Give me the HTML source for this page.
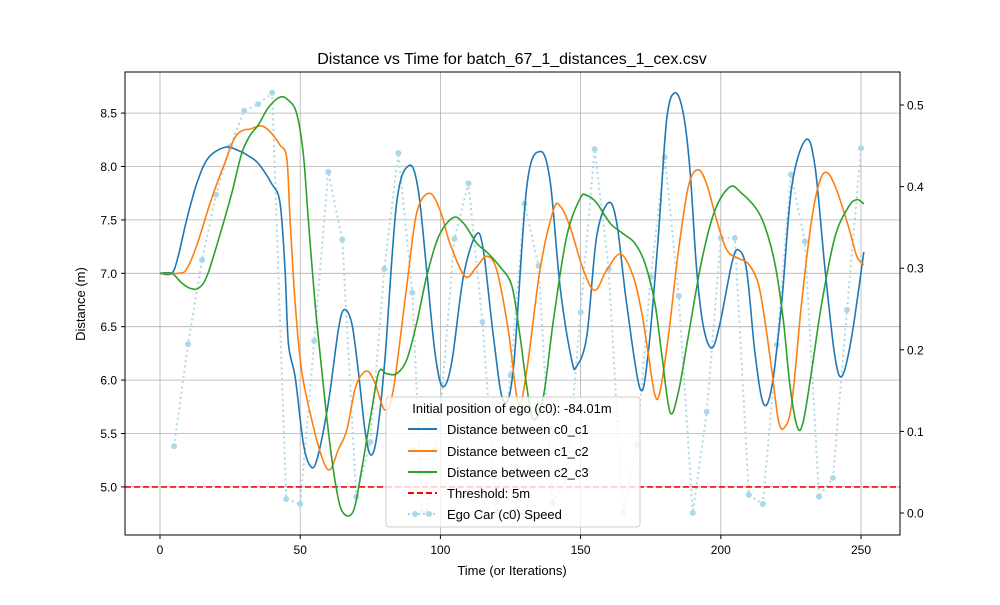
<!DOCTYPE html>
<html><head><meta charset="utf-8"><style>
body{margin:0;background:#fff;}
svg text{font-family:"Liberation Sans","DejaVu Sans",sans-serif;fill:#000;}
</style></head><body>
<svg id="chart" width="1000" height="600" viewBox="0 0 1000 600" xmlns="http://www.w3.org/2000/svg">
<rect width="1000" height="600" fill="#fff"/>
<text x="512" y="64" font-size="16" text-anchor="middle">Distance vs Time for batch_67_1_distances_1_cex.csv</text>
<g id="grid"></g>
<g id="series"></g>
<rect x="125" y="72" width="775" height="463" fill="none" stroke="#000" stroke-width="1"/>
<g id="axes"></g>
<text x="512" y="575" font-size="13" text-anchor="middle">Time (or Iterations)</text>
<text transform="translate(85,304) rotate(-90)" font-size="13" text-anchor="middle">Distance (m)</text>
<g id="legend">
<rect x="386" y="397" width="254" height="130" rx="3" fill="#fff" fill-opacity="0.8" stroke="#ccc"/>
<text x="512" y="413" font-size="13" text-anchor="middle">Initial position of ego (c0): -84.01m</text>
<line x1="408" y1="429" x2="437" y2="429" stroke="#1f77b4" stroke-width="2"/>
<text x="447" y="434" font-size="13">Distance between c0_c1</text>
<line x1="408" y1="451" x2="437" y2="451" stroke="#ff7f0e" stroke-width="2"/>
<text x="447" y="456" font-size="13">Distance between c1_c2</text>
<line x1="408" y1="472" x2="437" y2="472" stroke="#2ca02c" stroke-width="2"/>
<text x="447" y="477" font-size="13">Distance between c2_c3</text>
<line x1="408" y1="493" x2="437" y2="493" stroke="#ff0000" stroke-width="2" stroke-dasharray="6,3"/>
<text x="447" y="498" font-size="13">Threshold: 5m</text>
<line x1="408" y1="514" x2="437" y2="514" stroke="#add8e6" stroke-width="2" stroke-dasharray="2,3"/>
<circle cx="415" cy="514" r="3" fill="#add8e6"/><circle cx="429" cy="514" r="3" fill="#add8e6"/>
<text x="447" y="519" font-size="13">Ego Car (c0) Speed</text>
</g>
</svg>
<script>
const xTicks=[0,50,100,150,200,250];
const yTicks=[5.0,5.5,6.0,6.5,7.0,7.5,8.0,8.5];
const y2Ticks=[0.0,0.1,0.2,0.3,0.4,0.5];
const threshold=5;
const c01It=[0,4.2,6.5,9.5,13.1,17.2,23.2,27.9,31.5,35,39.8,42.8,44.6,45.8,48.2,51.1,53.5,55.9,60,63.6,65.7,68.4,70.7,73.1,75.1,77.3,80.2,84.4,88.9,92.1,95.1,98.1,100.8,104,108.2,112.7,115.3,118.9,122.4,126,130.8,135.5,139.1,142.7,146.8,148.6,152.2,155.7,159.9,162.9,166.4,171.2,174.1,177.7,180.7,183.7,186.6,189,191.4,193.8,196.8,199.7,203.9,206.2,209.2,212.2,215.2,218.2,221.7,225.3,230.3,233.6,237.2,240.7,243.3,246.7,251];
const c01Val=[7.0,7.0,7.16,7.5,7.84,8.08,8.18,8.15,8.10,8.03,7.84,7.66,7.03,6.34,6.03,5.41,5.2,5.25,5.78,6.47,6.66,6.53,6.09,5.53,5.30,5.47,6.19,7.66,8.01,7.78,7.03,6.25,5.94,6.16,6.97,7.36,7.22,6.41,5.81,6.1,7.81,8.14,7.87,6.87,6.19,6.13,6.41,7.34,7.66,7.47,6.72,5.92,6.25,7.34,8.44,8.69,8.5,7.97,7.03,6.5,6.3,6.53,7.09,7.22,7.03,6.25,5.78,5.94,6.72,7.81,8.25,8.0,7.03,6.22,6.04,6.41,7.2];
const c12It=[0,6.5,9.5,13.1,18.4,23.2,26.7,29.7,32.1,36.3,39.8,42.8,45.2,46.4,48.2,50.5,54.1,57.7,60.6,63.6,66.6,69.5,71.9,74.3,76.7,80.2,83.2,88,91.5,96,99.9,103.4,108.8,112.9,116.5,120.1,124.2,127.8,130.8,135.5,140.3,142.7,146.2,151,155.1,159.3,164.3,168.8,171.8,174.1,176.5,178.3,181.3,184.8,188.4,191.8,194.9,198.5,202.1,206.2,209.8,213.3,215.7,218.2,220.5,222.5,225.3,228.8,232.4,235.4,238.1,241.3,245.5,248.5,251];
const c12Val=[7.0,7.0,7.04,7.26,7.70,8.04,8.27,8.34,8.35,8.38,8.31,8.2,8.08,7.5,6.72,6.09,5.63,5.28,5.16,5.35,5.53,5.91,6.05,6.08,5.97,5.72,5.91,6.88,7.56,7.75,7.59,7.28,6.97,7.06,7.16,7.03,6.47,5.78,6.09,7.03,7.59,7.63,7.44,7.03,6.84,7.03,7.18,6.97,6.63,6.25,5.86,5.89,6.41,7.19,7.81,7.97,7.84,7.5,7.22,7.14,7.09,6.91,6.56,6.09,5.63,5.55,5.78,6.72,7.5,7.87,7.94,7.78,7.44,7.16,7.08];
const c23It=[0,4.2,7.7,10.7,13.7,16.7,20.8,25.6,29.1,32.1,35.1,38.6,42.8,45.8,48.7,51.1,52.9,55.3,57.7,60,62.4,65,68.9,71.9,75.5,78.1,80.8,84.4,88,91.5,95.1,99.3,104.4,108.2,113,116.5,121.3,125.5,128.4,130.8,133.2,136.7,140.3,145,149.8,152.2,155.7,160.5,165.2,169.4,173,176.5,178.9,181.9,184.8,188.4,193.2,197.9,203.3,207.4,212.2,215.7,219.3,222.3,224.7,227.3,229.4,232.4,236,240.7,245.5,248.5,251];
const c23Val=[7.0,7.0,6.91,6.86,6.86,6.97,7.31,7.75,8.12,8.29,8.39,8.55,8.65,8.62,8.5,8.12,7.5,6.72,6.09,5.53,5.06,4.77,4.77,5.16,5.72,6.08,6.06,6.06,6.19,6.53,6.97,7.34,7.52,7.47,7.28,7.2,7.06,6.88,6.41,5.94,5.63,5.84,6.56,7.34,7.70,7.73,7.66,7.47,7.37,7.28,7.09,6.72,6.25,5.70,5.88,6.41,7.12,7.59,7.81,7.75,7.62,7.44,7.09,6.56,5.94,5.56,5.61,6.09,6.72,7.34,7.62,7.69,7.65];
const speedIt=[5,10,15,20,25,30,35,40,45,50,55,60,65,70,75,80,85,90,93.5,95,100,105,110,115,120,125,130,135,140,145,150,155,160,165,170,175,180,185,190,195,200,205,210,215,220,225,230,235,240,245,250];
const speedVal=[0.082,0.207,0.310,0.390,0.449,0.493,0.501,0.515,0.017,0.011,0.211,0.418,0.335,0.020,0.087,0.299,0.441,0.270,0.0,0.0,0.124,0.336,0.404,0.234,0.001,0.169,0.379,0.303,0.012,0.042,0.246,0.446,0.299,0.0,0.083,0.289,0.436,0.266,0.0,0.124,0.337,0.337,0.022,0.011,0.206,0.415,0.333,0.020,0.043,0.249,0.447];

const NS="http://www.w3.org/2000/svg";
const X=v=>160+v*2.804;
const Y=v=>273.3-(v-7)*106.8;
const Y2=v=>513-v*816;
function mk(tag,attrs,parent){const e=document.createElementNS(NS,tag);for(const k in attrs)e.setAttribute(k,attrs[k]);parent.appendChild(e);return e;}
const grid=document.getElementById('grid'),axes=document.getElementById('axes'),series=document.getElementById('series');
xTicks.forEach(t=>{
  const g=mk('line',{x1:X(t),x2:X(t),y1:72,y2:535,stroke:'#b0b0b0','stroke-width':0.8},grid);
  
  
  mk('line',{x1:X(t),x2:X(t),y1:535,y2:539,stroke:'#000'},axes);
  const l=mk('text',{x:X(t),y:554,'font-size':12,'text-anchor':'middle'},axes);l.textContent=t;
  
  
});
yTicks.forEach(t=>{
  const g=mk('line',{x1:125,x2:900,y1:Y(t),y2:Y(t),stroke:'#b0b0b0','stroke-width':0.8},grid);
  
  
  mk('line',{x1:121,x2:125,y1:Y(t),y2:Y(t),stroke:'#000'},axes);
  const l=mk('text',{x:117,y:Y(t)+4.5,'font-size':12,'text-anchor':'end'},axes);l.textContent=t.toFixed(1);
  
  
});
y2Ticks.forEach(t=>{
  mk('line',{x1:900,x2:904,y1:Y2(t),y2:Y2(t),stroke:'#000'},axes);
  const l=mk('text',{x:907,y:Y2(t)+4.5,'font-size':12},axes);l.textContent=t.toFixed(1);
  
  
});
function spline(xs,ys){
  const p=xs.map((x,i)=>[X(x),Y(ys[i])]);
  let d=`M${p[0][0]},${p[0][1]}`;
  for(let i=0;i<p.length-1;i++){
    const p0=p[Math.max(0,i-1)],p1=p[i],p2=p[i+1],p3=p[Math.min(p.length-1,i+2)];
    const c1=[p1[0]+(p2[0]-p0[0])/6,p1[1]+(p2[1]-p0[1])/6];
    const c2=[p2[0]-(p3[0]-p1[0])/6,p2[1]-(p3[1]-p1[1])/6];
    d+=` C${c1[0]},${c1[1]} ${c2[0]},${c2[1]} ${p2[0]},${p2[1]}`;
  }
  return d;
}
const sp=speedIt.map((x,i)=>X(x)+','+Y2(speedVal[i])).join(' ');
const sl=mk('polyline',{points:sp,fill:'none',stroke:'#add8e6','stroke-width':2,'stroke-dasharray':'2,3.3'},series);


speedIt.forEach((x,i)=>{
  const c=mk('circle',{cx:X(x),cy:Y2(speedVal[i]),r:3,fill:'#add8e6'},series);
  
  
});
const th=mk('line',{x1:125,x2:900,y1:Y(threshold),y2:Y(threshold),stroke:'#ff0000','stroke-width':1.6,'stroke-dasharray':'6,3'},series);


const p1=mk('path',{d:spline(c01It,c01Val),fill:'none',stroke:'#1f77b4','stroke-width':1.6},series);


const p2=mk('path',{d:spline(c12It,c12Val),fill:'none',stroke:'#ff7f0e','stroke-width':1.6},series);


const p3=mk('path',{d:spline(c23It,c23Val),fill:'none',stroke:'#2ca02c','stroke-width':1.6},series);


</script>
</body></html>
